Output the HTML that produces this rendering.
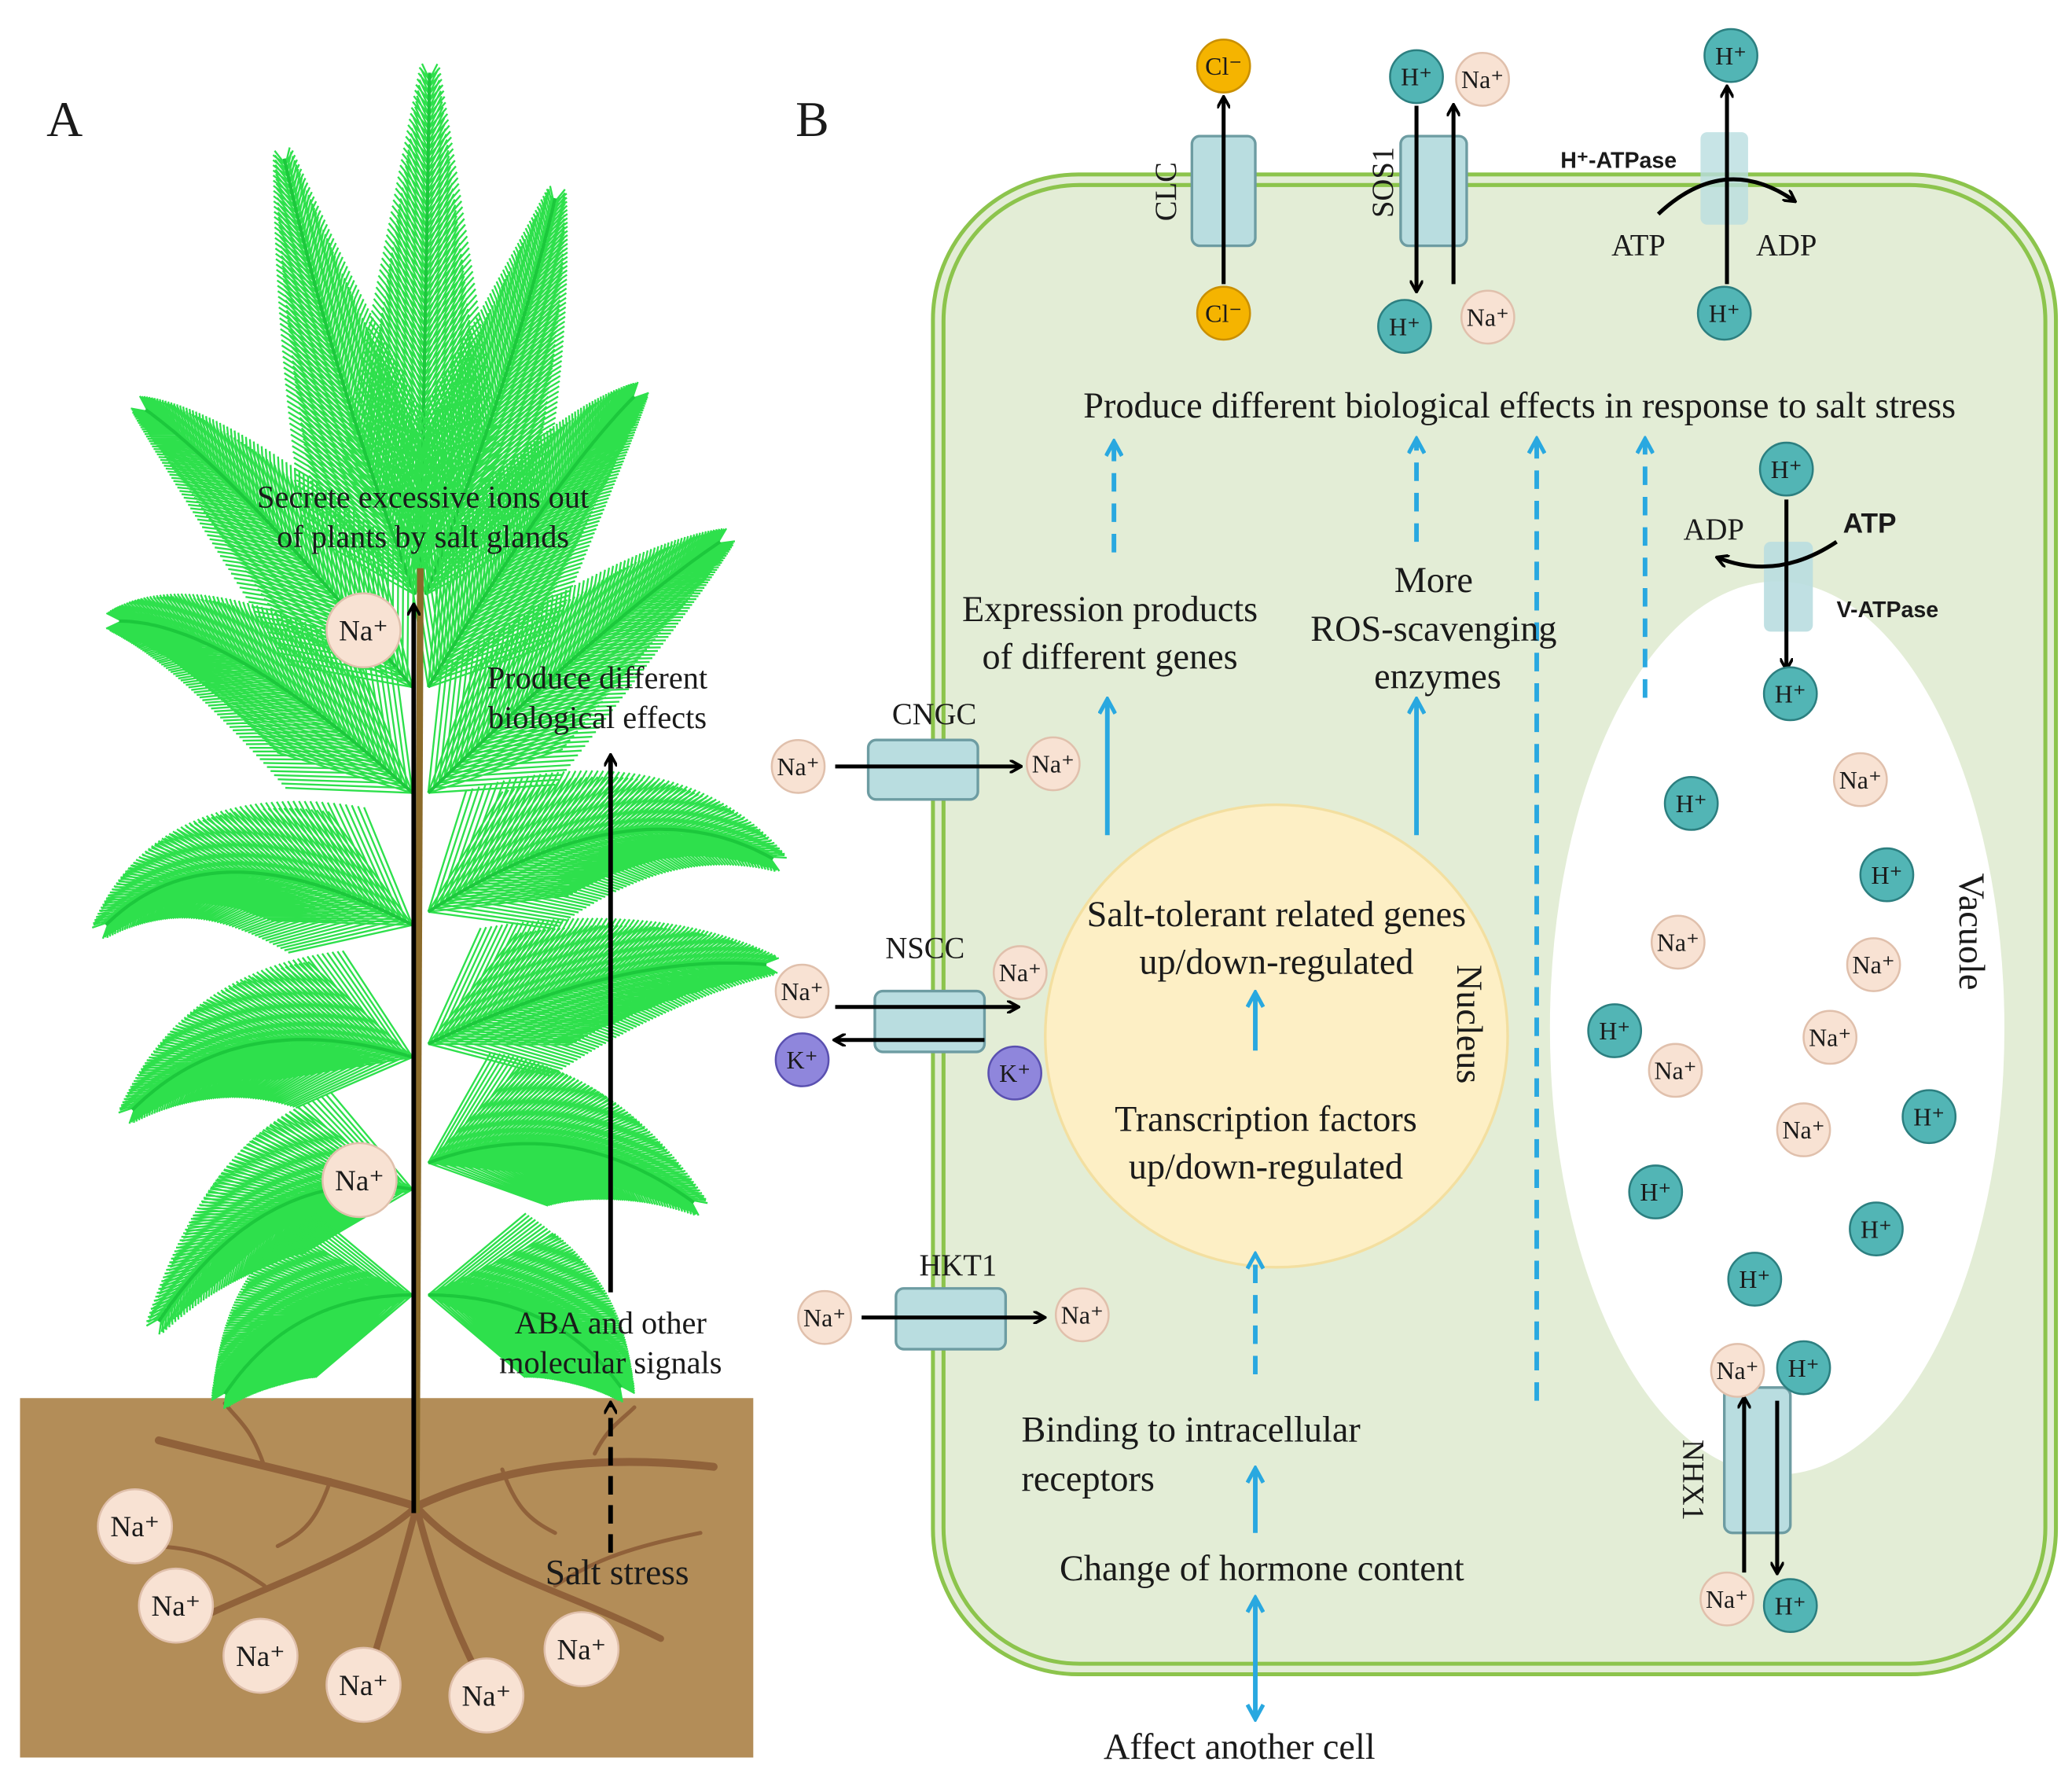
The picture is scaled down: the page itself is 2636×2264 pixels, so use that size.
<!DOCTYPE html>
<html><head><meta charset="utf-8"><style>
html,body{margin:0;padding:0;background:#fff}
svg{display:block}
text{font-family:"Liberation Serif",serif;fill:#1a1a1a}
.b{font-family:"Liberation Sans",sans-serif;font-weight:bold}
</style></head><body>
<svg id="s" width="2636" height="2264" viewBox="0 0 1568 1347" xmlns="http://www.w3.org/2000/svg">
<defs>
<marker id="ak" markerWidth="10" markerHeight="10" refX="8" refY="5" orient="auto" markerUnits="userSpaceOnUse"><path d="M0,0 L9,5 L0,10" fill="none" stroke="#000" stroke-width="2.2"/></marker>
<marker id="ab" markerWidth="14" markerHeight="14" refX="11" refY="7" orient="auto" markerUnits="userSpaceOnUse"><path d="M1,1 L12,7 L1,13" fill="none" stroke="#29a8e0" stroke-width="3"/></marker>
<marker id="abs" markerWidth="14" markerHeight="14" refX="3" refY="7" orient="auto" markerUnits="userSpaceOnUse"><path d="M13,1 L2,7 L13,13" fill="none" stroke="#29a8e0" stroke-width="3"/></marker>
</defs>
<rect width="1568" height="1347" fill="#fff"/>
<text x="35" y="103" font-size="38">A</text>
<text x="602" y="103" font-size="38">B</text>
<rect x="15" y="1058" width="555" height="272" fill="#b38d58"/>
<g id="roots" stroke="#8a5a35" fill="none" stroke-linecap="round" opacity="0.85">
<path d="M315,1140 C250,1120 200,1110 120,1090" stroke-width="6"/>
<path d="M315,1140 C380,1110 450,1100 540,1110" stroke-width="6"/>
<path d="M315,1140 C270,1180 200,1200 140,1230" stroke-width="5"/>
<path d="M315,1140 C360,1190 420,1200 500,1240" stroke-width="5"/>
<path d="M315,1140 C300,1200 280,1260 270,1300" stroke-width="5"/>
<path d="M315,1140 C330,1200 350,1250 380,1300" stroke-width="5"/>
<path d="M200,1110 C190,1080 180,1075 170,1062" stroke-width="3"/>
<path d="M450,1100 C460,1080 470,1075 480,1065" stroke-width="3"/>
<path d="M200,1200 C170,1180 150,1170 110,1170" stroke-width="3"/>
<path d="M420,1200 C450,1180 480,1170 530,1160" stroke-width="3"/>
<path d="M250,1120 C240,1150 230,1160 210,1170" stroke-width="3"/>
<path d="M380,1112 C390,1140 400,1150 420,1160" stroke-width="3"/>
</g>
<g id="tree"></g>
<line x1="315" y1="1145" x2="318" y2="430" stroke="#8a6a2a" stroke-width="5"/>
<line x1="313" y1="1145" x2="313" y2="458" stroke="#000" stroke-width="3.5" marker-end="url(#ak)"/>
<line x1="462" y1="978" x2="462" y2="572" stroke="#000" stroke-width="3.5" marker-end="url(#ak)"/>
<line x1="462" y1="1175" x2="462" y2="1062" stroke="#000" stroke-width="3.5" stroke-dasharray="14,8" marker-end="url(#ak)"/>
<g font-size="24" text-anchor="middle">
<text x="320" y="384">Secrete excessive ions out</text>
<text x="320" y="414">of plants by salt glands</text>
<text x="452" y="521">Produce different</text>
<text x="452" y="551">biological effects</text>
<text x="462" y="1009">ABA and other</text>
<text x="462" y="1039">molecular signals</text>
<text x="467" y="1199" font-size="27">Salt stress</text>
</g>
<rect x="706" y="132" width="850" height="1135" rx="110" fill="#e3edd6" stroke="#8cc44c" stroke-width="3"/>
<rect x="714" y="140" width="834" height="1119" rx="103" fill="none" stroke="#8cc44c" stroke-width="3"/>
<ellipse cx="1345" cy="778" rx="172" ry="338" fill="#fff"/>
<circle cx="966" cy="784" r="175" fill="#fdefc5" stroke="#f3dfa0" stroke-width="2"/>
<g fill="#b9dde0" stroke="#6d9ca2" stroke-width="2">
<rect x="902" y="103" width="48" height="83" rx="6"/>
<rect x="1060" y="103" width="50" height="83" rx="6"/>
<rect x="657" y="560" width="83" height="45" rx="6"/>
<rect x="662" y="750" width="83" height="46" rx="6"/>
<rect x="678" y="975" width="83" height="46" rx="6"/>
<rect x="1305" y="1050" width="50" height="110" rx="6"/>
</g>
<rect x="1287" y="100" width="36" height="70" rx="5" fill="#b9dde0" opacity="0.8"/>
<rect x="1335" y="410" width="37" height="68" rx="5" fill="#b9dde0" opacity="0.9"/>
<g font-size="23">
<text transform="translate(890,145) rotate(-90)" text-anchor="middle">CLC</text>
<text transform="translate(1054,138) rotate(-90)" text-anchor="middle">SOS1</text>
<text transform="translate(1274,1120) rotate(90)" text-anchor="middle">NHX1</text>
<text x="707" y="548" text-anchor="middle">CNGC</text>
<text x="700" y="725" text-anchor="middle">NSCC</text>
<text x="725" y="965" text-anchor="middle">HKT1</text>
<text x="1240" y="193" text-anchor="middle">ATP</text>
<text x="1352" y="193" text-anchor="middle">ADP</text>
<text x="1297" y="408" text-anchor="middle">ADP</text>
</g>
<text x="1225" y="127" font-size="17" class="b" text-anchor="middle">H⁺-ATPase</text>
<text x="1390" y="467" font-size="17" class="b">V-ATPase</text>
<text x="1415" y="403" font-size="21" class="b" text-anchor="middle">ATP</text>
<g stroke="#000" stroke-width="3" fill="none" marker-end="url(#ak)">
<line x1="926" y1="215" x2="926" y2="74"/>
<line x1="1072" y1="80" x2="1072" y2="220"/>
<line x1="1100" y1="215" x2="1100" y2="80"/>
<line x1="1307" y1="215" x2="1307" y2="66"/>
<path d="M1255,162 Q1305,115 1358,152"/>
<line x1="1352" y1="378" x2="1352" y2="506"/>
<path d="M1390,410 Q1345,440 1300,422"/>
<line x1="632" y1="580" x2="772" y2="580"/>
<line x1="632" y1="762" x2="770" y2="762"/>
<line x1="745" y1="787" x2="632" y2="787"/>
<line x1="652" y1="997" x2="790" y2="997"/>
<line x1="1320" y1="1190" x2="1320" y2="1058"/>
<line x1="1345" y1="1060" x2="1345" y2="1190"/>
</g>
<g stroke="#29a8e0" stroke-width="3.5" fill="none" marker-end="url(#ab)">
<line x1="838" y1="632" x2="838" y2="530"/>
<line x1="1072" y1="632" x2="1072" y2="530"/>
<line x1="950" y1="795" x2="950" y2="752"/>
<line x1="950" y1="1160" x2="950" y2="1112"/>
<line x1="950" y1="1210" x2="950" y2="1300" marker-start="url(#abs)"/>
<g stroke-dasharray="14,9">
<line x1="843" y1="418" x2="843" y2="335"/>
<line x1="1072" y1="410" x2="1072" y2="333"/>
<line x1="1163" y1="1060" x2="1163" y2="333"/>
<line x1="1245" y1="528" x2="1245" y2="333"/>
<line x1="950" y1="1040" x2="950" y2="950"/>
</g>
</g>
<g font-size="27.5" text-anchor="middle">
<text x="1150" y="316">Produce different biological effects in response to salt stress</text>
<text x="840" y="470">Expression products</text>
<text x="840" y="506">of different genes</text>
<text x="1085" y="448">More</text>
<text x="1085" y="485">ROS-scavenging</text>
<text x="1088" y="521">enzymes</text>
<text x="966" y="701">Salt-tolerant related genes</text>
<text x="966" y="737">up/down-regulated</text>
<text x="958" y="856">Transcription factors</text>
<text x="958" y="892">up/down-regulated</text>
<text transform="translate(1103,775) rotate(90)">Nucleus</text>
<text transform="translate(1483,705) rotate(90)">Vacuole</text>
<text x="773" y="1091" text-anchor="start">Binding to intracellular</text>
<text x="773" y="1128" text-anchor="start">receptors</text>
<text x="955" y="1196">Change of hormone content</text>
<text x="938" y="1331">Affect another cell</text>
</g>
<g id="ions"></g>
</svg>
<script>
var NS="http://www.w3.org/2000/svg";
function el(p,t,a,tx){var e=document.createElementNS(NS,t);for(var k in a)e.setAttribute(k,a[k]);if(tx)e.textContent=tx;p.appendChild(e);return e;}
var tr=document.getElementById("tree");
// base, control, tip
var fr=[[318,430,322,240,325,55],[314,450,250,280,215,120],[322,450,390,280,420,150],[312,520,180,360,110,310],[324,520,420,360,480,300],[312,600,170,470,90,470],[324,600,470,460,545,410],[312,700,160,620,80,700],[324,690,480,590,585,650],[312,800,180,760,100,840],[324,790,470,720,580,730],[312,900,200,880,120,1000],[324,880,430,840,525,910],[312,980,220,980,170,1055],[324,980,420,980,470,1050]];
fr.forEach(function(f){
 var d="",rd="";
 function P(t){var a=(1-t)*(1-t),b=2*(1-t)*t,c=t*t;return [a*f[0]+b*f[2]+c*f[4],a*f[1]+b*f[3]+c*f[5]];}
 var N=70;
 for(var i=0;i<=N;i++){var t=i/N;var p=P(t),q=P(Math.min(1,t+0.01));var dx=q[0]-p[0],dy=q[1]-p[1],L=Math.hypot(dx,dy)||1;var ux=dx/L,uy=dy/L;
  rd+=(i?"L":"M")+p[0].toFixed(1)+","+p[1].toFixed(1);
  var len=(1-t)*95+12;
  [0.7,-0.7,0.45,-0.45].forEach(function(a,k){var c=Math.cos(a),s=Math.sin(a);var vx=ux*c-uy*s,vy=ux*s+uy*c;var l=len*(k<2?0.9:1);d+="M"+p[0].toFixed(1)+","+p[1].toFixed(1)+"L"+(p[0]+vx*l).toFixed(1)+","+(p[1]+vy*l).toFixed(1);});}
 el(tr,"path",{d:d,stroke:"#2ee04c","stroke-width":"1.4",fill:"none"});
 el(tr,"path",{d:rd,stroke:"#1cc83c","stroke-width":"2.5",fill:"none"});
});
var g=document.getElementById("ions");
function ion(x,y,r,fill,st,lab,fs){el(g,"circle",{cx:x,cy:y,r:r,fill:fill,stroke:st,"stroke-width":"1.5"});
 var t=el(g,"text",{x:x,y:y+fs*0.35,"font-size":fs,"text-anchor":"middle"});t.textContent=lab;}
var NaF="#f8e2d3",NaS="#e0c0ac";
[[275,477],[272,893],[102,1155],[133,1215],[197,1253],[275,1275],[368,1283],[440,1248]].forEach(function(p){ion(p[0],p[1],28,NaF,NaS,"Na⁺",22);});
[[1122,60],[1126,240],[604,580],[797,578],[607,750],[772,736],[624,997],[819,995],[1408,590],[1270,713],[1418,730],[1385,785],[1268,810],[1365,855],[1315,1037],[1307,1210]].forEach(function(p){ion(p[0],p[1],20,NaF,NaS,"Na⁺",19);});
[[1072,58],[1063,247],[1310,42],[1305,237],[1352,355],[1355,525],[1280,608],[1428,662],[1222,780],[1460,845],[1253,902],[1420,930],[1328,968],[1365,1035],[1355,1215]].forEach(function(p){ion(p[0],p[1],20,"#52b5b5","#2c7f80","H⁺",19);});
[[926,50],[926,237]].forEach(function(p){ion(p[0],p[1],20,"#f5b400","#c98f00","Cl⁻",19);});
[[607,802],[768,812]].forEach(function(p){ion(p[0],p[1],20,"#8f86dc","#5a50b0","K⁺",19);});
</script>
</body></html>
